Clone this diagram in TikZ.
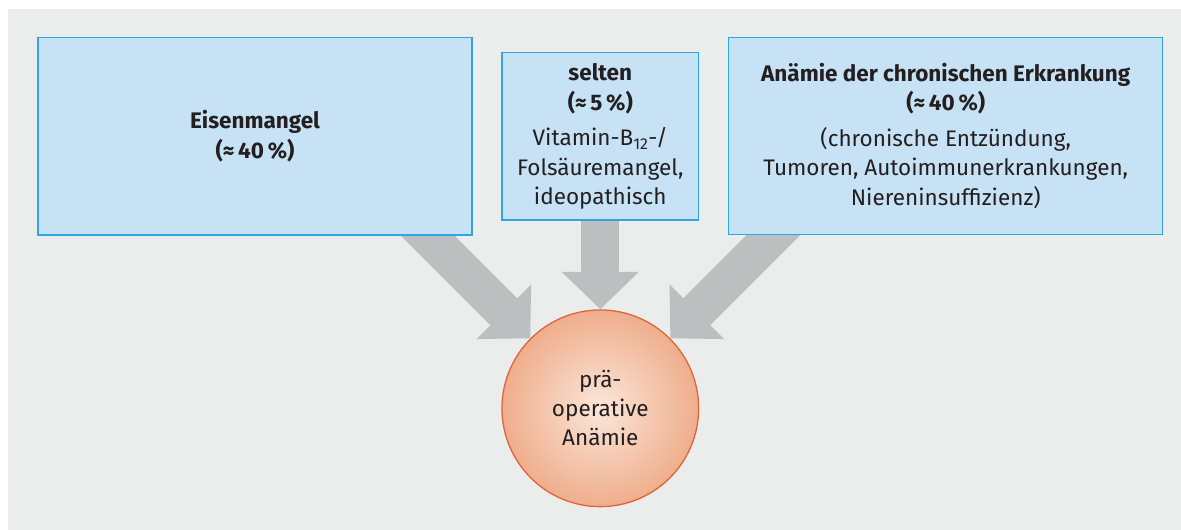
\documentclass[tikz,border=0pt]{standalone}
\usepackage{fontspec}
\setmainfont{Fira Sans}
\usetikzlibrary{arrows.meta,calc}
\definecolor{bggray}{HTML}{EBEDEC}
\definecolor{boxfill}{HTML}{C6E2F4}
\definecolor{boxline}{HTML}{2EA7E0}
\definecolor{arrgray}{HTML}{BDBEC0}
\definecolor{circin}{HTML}{FBE6DA}
\definecolor{circout}{HTML}{EFAE8C}
\definecolor{circline}{HTML}{E0643A}
\definecolor{txt}{HTML}{231F20}
\pgfdeclarelayer{bg}
\pgfsetlayers{bg,main}
\tikzset{
  infobox/.style={draw=boxline, line width=1.3pt, fill=boxfill, inner sep=0pt, align=center, text=txt,
    font=\fontsize{22.5}{29.5}\selectfont},
  endcircle/.style={circle, draw=circline, line width=1.3pt, inner color=circin, outer color=circout,
    inner sep=0pt, minimum size=196.7pt, align=center, text=txt, font=\fontsize{22.5}{29}\selectfont},
  fatarrow/.style={draw=arrgray, line width=38pt, -{Triangle[width=75pt,length=37.5pt]}}
}
\begin{document}
\begin{tikzpicture}[x=1pt,y=-1pt]
\useasboundingbox (0,0) rectangle (1181,530);
\node[infobox, minimum width=434pt, minimum height=197.3pt] (b1) at (255,136.3)
  {\textbf{Eisenmangel}\\\textbf{(≈\,40\,\%)}};
\node[infobox, minimum width=196.7pt, minimum height=167.3pt] (b2) at (600.3,136.4)
  {\textbf{selten}\\\textbf{(≈\,5\,\%)}\\[6pt]Vitamin-B\textsubscript{12}-/\\Folsäuremangel,\\ideopathisch};
\node[infobox, minimum width=434pt, minimum height=197.4pt] (b3) at (945.7,136)
  {\textbf{Anämie der chronischen Erkrankung}\\\textbf{(≈\,40\,\%)}\\[6pt](chronische Entzündung,\\Tumoren, Autoimmunerkrankungen,\\Niereninsuffizienz)};
\node[endcircle] (c) at (600.3,408.3) {prä-\\operative\\Anämie};
\coordinate (s1) at ($(c.135)+(-118,-118)$);
\coordinate (s3) at ($(c.45)+(118,-118)$);
\coordinate (s2) at ($(b2.south)+(0,-12)$);
\begin{pgfonlayer}{bg}
  \fill[bggray] (8,9) rectangle (1181,530);
  \draw[fatarrow] (s1) -- (c.135);
  \draw[fatarrow] (s2) -- (c.north);
  \draw[fatarrow] (s3) -- (c.45);
\end{pgfonlayer}
\end{tikzpicture}
\end{document}
